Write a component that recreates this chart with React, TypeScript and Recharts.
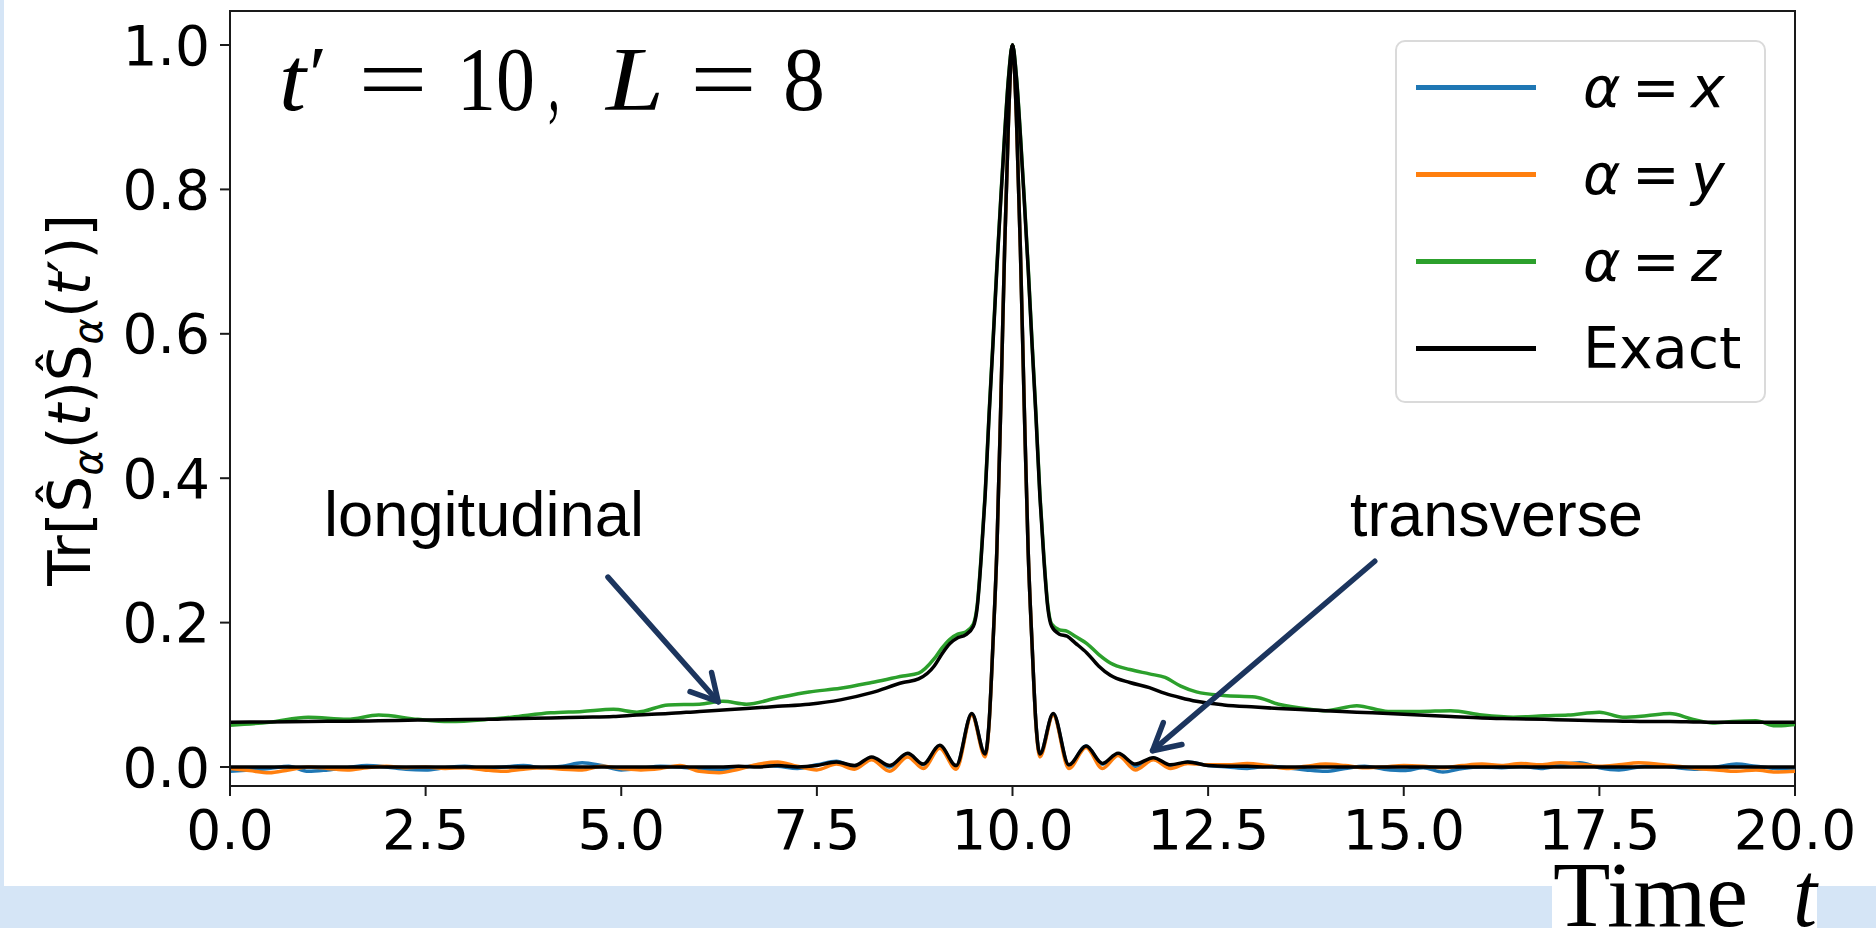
import { LineChart, Line, XAxis, YAxis, ReferenceLine, ReferenceArea, Legend } from 'recharts';

// transverse channel (alpha = x, y) and its exact curve share one time grid
const tLow = [
  0, 0.25, 0.5, 0.75, 1, 1.25, 1.5, 1.75, 2, 2.25, 2.5, 2.75, 3, 3.25, 3.5, 3.75, 4, 4.25, 4.5, 4.75,
  5, 5.25, 5.5, 5.75, 6, 6.25, 6.5, 6.75, 7, 7.25,
  7.5, 7.75, 7.98, 8.2, 8.43, 8.66, 8.86, 9.07, 9.28, 9.48, 9.65, 9.7, 9.75, 9.8, 9.85, 9.9, 9.95, 10,
  10.05, 10.1, 10.15, 10.2, 10.25, 10.3, 10.35, 10.52, 10.72, 10.94, 11.15, 11.35, 11.57, 11.8, 12.02, 12.24, 12.5,
  12.75, 13, 13.25, 13.5, 13.75, 14, 14.25, 14.5, 14.75, 15, 15.25, 15.5, 15.75, 16, 16.25, 16.5, 16.75,
  17, 17.25, 17.5, 17.75, 18, 18.25, 18.5, 18.75, 19, 19.25, 19.5, 19.75, 20,
];
const sx = [
  -0.006, -0.004, -0.002, 0.001, -0.006, -0.004, -0.001, 0.002, 0.0, -0.003, -0.004, -0.001, 0.001, -0.002, 0.0, 0.002, -0.001, 0.001, 0.006, 0.002,
  -0.004, -0.002, 0.001, 0.0, -0.003, -0.004, -0.001, 0.002, 0.001, -0.002,
  0.003, 0.008, 0.0, 0.013, 0.0, 0.018, 0.003, 0.029, 0.001, 0.073, 0.018, 0.06, 0.17, 0.3, 0.5, 0.72, 0.9, 1.0,
  0.9, 0.72, 0.5, 0.3, 0.17, 0.06, 0.018, 0.073, 0.002, 0.029, 0.004, 0.018, 0.001, 0.012, 0.0, 0.007, 0.002,
  0.0, -0.002, 0.001, -0.001, -0.004, -0.006, -0.002, 0.001, -0.003, -0.005, -0.001, -0.007, -0.002, 0.0, -0.001, 0.001, -0.002,
  0.003, 0.006, -0.001, -0.004, 0.0, 0.002, -0.001, -0.003, 0.0, 0.004, 0.001, -0.002, -0.003,
];
const sy = [
  -0.002, -0.005, -0.008, -0.004, 0.0, -0.002, -0.004, -0.001, 0.001, -0.001, 0.0, -0.002, -0.001, -0.004, -0.006, -0.003, -0.001, -0.003, -0.004, 0.001,
  -0.002, -0.004, -0.002, 0.002, -0.006, -0.008, -0.003, 0.004, 0.007, 0.001,
  -0.004, 0.004, -0.003, 0.01, -0.006, 0.014, -0.002, 0.026, -0.003, 0.072, 0.014, 0.058, 0.17, 0.3, 0.5, 0.72, 0.9, 1.0,
  0.9, 0.72, 0.5, 0.3, 0.17, 0.058, 0.014, 0.072, -0.002, 0.027, -0.002, 0.016, -0.004, 0.01, -0.002, 0.005, 0.003,
  0.003, 0.005, 0.002, -0.002, 0.001, 0.004, 0.002, -0.001, 0.0, 0.002, 0.001, -0.001, 0.002, 0.004, 0.002, 0.005, 0.003,
  0.006, 0.004, 0.001, 0.003, 0.006, 0.004, 0.001, -0.002, -0.004, -0.006, -0.004, -0.007, -0.006,
];
const exactT = [
  0, 0, 0, 0, 0, 0, 0, 0, 0, 0, 0, 0, 0, 0, 0, 0, 0, 0, 0, 0,
  0, 0, 0, 0, 0, 0, 0.001, 0, 0.002, 0,
  0.002, 0.007, 0.002, 0.014, 0.002, 0.019, 0.004, 0.03, 0.002, 0.074, 0.018, 0.06, 0.17, 0.3, 0.5, 0.72, 0.9, 1.0,
  0.9, 0.72, 0.5, 0.3, 0.17, 0.06, 0.018, 0.074, 0.003, 0.029, 0.005, 0.019, 0.004, 0.013, 0.003, 0.007, 0.002,
  0.001, 0.001, 0, 0, 0, 0, 0, 0, 0, 0, 0, 0, 0, 0, 0, 0, 0,
  0, 0, 0, 0, 0, 0, 0, 0, 0, 0, 0, 0, 0,
];

// longitudinal channel (alpha = z) and its exact curve
const tHigh = [
  0, 0.5, 1, 1.5, 1.9, 2.4, 2.8, 3.3, 3.6, 4.1, 4.5, 4.9, 5.2, 5.6, 6, 6.3, 6.6, 7, 7.4, 7.8,
  8.2, 8.6, 8.8, 9, 9.1, 9.2, 9.3, 9.4, 9.5,
  9.55, 9.6, 9.65, 9.7, 9.75, 9.8, 9.85, 9.9, 9.95, 10, 10.05, 10.1, 10.15, 10.2, 10.25, 10.3, 10.35, 10.4, 10.45, 10.5,
  10.6, 10.7, 10.8, 10.95, 11.1, 11.25, 11.5, 11.75, 11.95, 12.15, 12.35, 12.7, 13.1, 13.4, 13.8, 14, 14.4,
  14.8, 15.2, 15.6, 16, 16.4, 16.8, 17.1, 17.5, 17.8, 18.1, 18.4, 18.7, 18.95, 19.2, 19.5, 19.75, 20,
];
const sz = [
  0.058, 0.062, 0.069, 0.066, 0.072, 0.066, 0.063, 0.066, 0.069, 0.075, 0.077, 0.08, 0.076, 0.086, 0.087, 0.091, 0.087, 0.096, 0.104, 0.109,
  0.117, 0.126, 0.13, 0.15, 0.165, 0.177, 0.184, 0.187, 0.198,
  0.225, 0.293, 0.378, 0.488, 0.588, 0.693, 0.788, 0.878, 0.957, 1.0, 0.957, 0.878, 0.788, 0.693, 0.588, 0.488, 0.378, 0.293, 0.225, 0.198,
  0.19, 0.188, 0.181, 0.171, 0.156, 0.144, 0.135, 0.129, 0.124, 0.112, 0.104, 0.099, 0.097, 0.087, 0.08, 0.078, 0.085,
  0.077, 0.077, 0.078, 0.072, 0.069, 0.071, 0.072, 0.076, 0.069, 0.071, 0.074, 0.066, 0.061, 0.063, 0.064, 0.057, 0.059,
];
const exactL = [
  0.062, 0.0625, 0.063, 0.0635, 0.064, 0.065, 0.0655, 0.066, 0.067, 0.068, 0.069, 0.07, 0.072, 0.074, 0.077, 0.079, 0.081, 0.084, 0.087, 0.093,
  0.103, 0.117, 0.122, 0.14, 0.157, 0.171, 0.179, 0.183, 0.195,
  0.222, 0.29, 0.375, 0.485, 0.585, 0.69, 0.785, 0.875, 0.955, 1.0, 0.955, 0.875, 0.785, 0.69, 0.585, 0.485, 0.375, 0.29, 0.222, 0.195,
  0.184, 0.181, 0.172, 0.158, 0.14, 0.127, 0.117, 0.11, 0.102, 0.096, 0.091, 0.086, 0.083, 0.081, 0.079, 0.078, 0.076,
  0.074, 0.072, 0.07, 0.068, 0.067, 0.066, 0.065, 0.064, 0.0635, 0.063, 0.063, 0.0625, 0.062, 0.062, 0.062, 0.062, 0.062,
];

const xTicks = [0, 2.5, 5, 7.5, 10, 12.5, 15, 17.5, 20];
const yTicks = [0, 0.2, 0.4, 0.6, 0.8, 1.0];
const legendLabels = ['x', 'y', 'z', 'Exact'];

const COLORS = ['#1f77b4', '#ff7f0e', '#2ca02c', '#000000'];
const NAVY = '#1c355e';
const AXIS = '#1a1a1a';
const Y_DOMAIN = [-0.0263, 1.0471];

const pts = (ts: number[], vs: number[]) => ts.map((t, i) => ({ t, v: vs[i] }));

const ArrowShape = (p: any) => {
  const { x1, y1, x2, y2 } = p;
  const ang = Math.atan2(y1 - y2, x1 - x2);
  const len = 30;
  const spread = 0.5;
  const ax = x2 + len * Math.cos(ang + spread), ay = y2 + len * Math.sin(ang + spread);
  const bx = x2 + len * Math.cos(ang - spread), by = y2 + len * Math.sin(ang - spread);
  return (
    <g stroke={NAVY} strokeWidth={5.5} strokeLinecap="round" strokeLinejoin="round" fill="none">
      <line x1={x1} y1={y1} x2={x2} y2={y2} />
      <polyline points={`${ax},${ay} ${x2},${y2} ${bx},${by}`} />
    </g>
  );
};

const renderLegend = () => (
  <div style={{ boxSizing: 'border-box', width: 371, height: 363, border: '2px solid #dadada', borderRadius: 10, background: 'rgba(255,255,255,0.85)', position: 'relative', fontFamily: 'DejaVu Sans', fontSize: 57, color: '#000' }}>
    {legendLabels.map((lab, i) => (
      <div key={lab} style={{ position: 'absolute', left: 0, top: 5 + i * 87, height: 80, display: 'flex', alignItems: 'center' }}>
        <div style={{ marginLeft: 19, width: 120, height: 5, background: COLORS[i] }} />
        <div style={{ marginLeft: 47, lineHeight: 1, whiteSpace: 'nowrap' }}>
          {lab === 'Exact' ? lab : (
            <>
              <span style={{ fontStyle: 'italic' }}>α</span>{'\u2009=\u2009'}<span style={{ fontStyle: 'italic' }}>{lab}</span>
            </>
          )}
        </div>
      </div>
    ))}
  </div>
);

const tickStyle = { fontSize: 55, fill: '#000', fontFamily: 'DejaVu Sans' };

export default function App() {
  const serif = 'Liberation Serif';
  return (
    <div style={{ position: 'absolute', left: 0, top: 0, width: 1876, height: 928, overflow: 'hidden', background: '#d5e5f6' }}>
      <div style={{ position: 'absolute', left: 4, top: 0, width: 1872, height: 886, background: '#fff' }} />
      <div style={{ position: 'absolute', left: 1552, top: 880, width: 265, height: 48, background: '#fff' }} />

      <div style={{ position: 'absolute', left: 0, top: 0 }}>
        <LineChart width={1876} height={928} margin={{ top: 11, right: 81, bottom: 42, left: 0 }}>
          <XAxis dataKey="t" type="number" domain={[0, 20]} ticks={xTicks} allowDataOverflow
            height={100} tickSize={10} tickMargin={14} tick={tickStyle}
            tickFormatter={(v: number) => v.toFixed(1)}
            axisLine={{ stroke: AXIS, strokeWidth: 2 }} tickLine={{ stroke: AXIS, strokeWidth: 2 }} />
          <YAxis type="number" domain={Y_DOMAIN} ticks={yTicks} allowDataOverflow
            width={230} tickSize={10} tickMargin={10} tick={tickStyle}
            tickFormatter={(v: number) => v.toFixed(1)}
            axisLine={{ stroke: AXIS, strokeWidth: 2 }} tickLine={{ stroke: AXIS, strokeWidth: 2 }} />

          {/* axes frame (top and right spines) */}
          <ReferenceArea x1={0} x2={20} y1={Y_DOMAIN[0]} y2={Y_DOMAIN[1]} fill="none" fillOpacity={0}
            stroke={AXIS} strokeWidth={2} ifOverflow="visible" />

          <Line data={pts(tLow, sx)} dataKey="v" name="x" type="monotone" stroke={COLORS[0]} strokeWidth={3.5} dot={false} activeDot={false} isAnimationActive={false} />
          <Line data={pts(tLow, sy)} dataKey="v" name="y" type="monotone" stroke={COLORS[1]} strokeWidth={3.5} dot={false} activeDot={false} isAnimationActive={false} />
          <Line data={pts(tHigh, sz)} dataKey="v" name="z" type="monotone" stroke={COLORS[2]} strokeWidth={3.5} dot={false} activeDot={false} isAnimationActive={false} />
          <Line data={pts(tHigh, exactL)} dataKey="v" name="exactL" type="monotone" stroke={COLORS[3]} strokeWidth={3.5} dot={false} activeDot={false} isAnimationActive={false} />
          <Line data={pts(tLow, exactT)} dataKey="v" name="exactT" type="monotone" stroke={COLORS[3]} strokeWidth={3.5} dot={false} activeDot={false} isAnimationActive={false} />

          <ReferenceLine segment={[{ x: 4.83, y: 0.263 }, { x: 6.24, y: 0.0904 }]} shape={ArrowShape} ifOverflow="visible" />
          <ReferenceLine segment={[{ x: 14.63, y: 0.285 }, { x: 11.79, y: 0.0226 }]} shape={ArrowShape} ifOverflow="visible" />

          <Legend layout="vertical" align="center" verticalAlign="middle" content={renderLegend}
            width={371} height={363} wrapperStyle={{ left: 1395, top: 40, width: 371, height: 363 }} />
        </LineChart>
      </div>

      <svg width={1876} height={928} style={{ position: 'absolute', left: 0, top: 0, pointerEvents: 'none' }}>
        {/* y-axis label */}
        <text transform="translate(90,400) rotate(-90)" textAnchor="middle" fontFamily="DejaVu Sans" fontSize={58} fill="#000">
          Tr[Ŝ<tspan fontSize={40} fontStyle="italic" dy={12}>α</tspan>
          <tspan dy={-12}>(</tspan><tspan fontStyle="italic">t</tspan>)Ŝ<tspan fontSize={40} fontStyle="italic" dy={12}>α</tspan>
          <tspan dy={-12}>(</tspan><tspan fontStyle="italic">t</tspan>′)]
        </text>

        {/* t' = 10, L = 8 */}
        <g fontFamily={serif} fontSize={90} fill="#000">
          <text x={279} y={110} fontStyle="italic" textLength={27} lengthAdjust="spacingAndGlyphs">t</text>
          <text x={309} y={100} fontSize={78} textLength={18} lengthAdjust="spacingAndGlyphs">′</text>
          <text x={358} y={110} textLength={70} lengthAdjust="spacingAndGlyphs">=</text>
          <text x={457} y={110} textLength={78} lengthAdjust="spacingAndGlyphs">10</text>
          <text x={548} y={110} textLength={12} lengthAdjust="spacingAndGlyphs">,</text>
          <text x={606} y={110} fontStyle="italic" textLength={58} lengthAdjust="spacingAndGlyphs">L</text>
          <text x={690} y={110} textLength={67} lengthAdjust="spacingAndGlyphs">=</text>
          <text x={783} y={110} textLength={42} lengthAdjust="spacingAndGlyphs">8</text>
        </g>

        <g fontFamily="Liberation Sans" fontSize={63} fill="#000">
          <text x={324} y={536} textLength={320} lengthAdjust="spacingAndGlyphs">longitudinal</text>
          <text x={1350} y={536} textLength={293} lengthAdjust="spacingAndGlyphs">transverse</text>
        </g>

        <g fontFamily={serif} fontSize={93} fill="#000">
          <text x={1553} y={926} textLength={195} lengthAdjust="spacingAndGlyphs">Time</text>
          <text x={1793} y={926} fontStyle="italic" textLength={24} lengthAdjust="spacingAndGlyphs">t</text>
        </g>
      </svg>
    </div>
  );
}
